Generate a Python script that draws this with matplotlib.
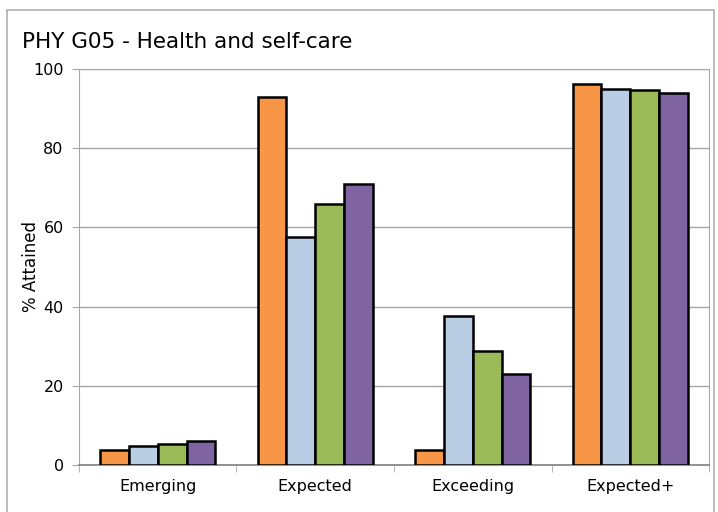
import matplotlib.pyplot as plt
import matplotlib.patches as mpatches
import numpy as np

categories = ["Emerging", "Expected", "Exceeding", "Expected+"]
series_a = [3.7, 92.9, 3.7, 96.3]
series_b = [4.9, 57.5, 37.6, 95.0]
series_c = [5.4, 65.8, 28.8, 94.6]
series_d = [6.1, 71.0, 23.1, 94.0]
colors = ["#f79646", "#b9cde5", "#9bbb59", "#8064a2"]

fig = plt.figure(figsize=(7.18, 5.12), dpi=100)
ax = fig.add_axes([0.110, 0.0918, 0.8775, 0.7735])

# outer chart border (bottom edge runs off the canvas)
fig.patches.append(mpatches.Rectangle((7 / 718, -0.05), 707 / 718, 1 - 10 / 512 + 0.05,
                                      transform=fig.transFigure, fill=False,
                                      edgecolor="#b0b0b0", linewidth=1.2))

x = np.arange(len(categories))
w = 0.183
for i, (vals, c) in enumerate(zip([series_a, series_b, series_c, series_d], colors)):
    ax.bar(x + (i - 1.5) * w, vals, width=w, color=c, edgecolor="black",
           linewidth=1.8, zorder=3)

ax.set_xlim(-0.5, len(categories) - 0.5)
ax.set_ylim(0, 100)
ax.set_yticks([0, 20, 40, 60, 80, 100])
ax.yaxis.grid(True, color="#a6a6a6", linewidth=1.0, zorder=0)
ax.set_xticks(x)
ax.set_xticklabels(categories, fontsize=11.5)
ax.set_xticks(np.arange(len(categories) + 1) - 0.5, minor=True)
ax.tick_params(axis="x", which="major", length=0, pad=10)
ax.tick_params(axis="x", which="minor", length=5, color="#a6a6a6", direction="out")
ax.tick_params(axis="y", length=5, color="#a6a6a6", direction="out", labelsize=11.5, pad=6)

for s in ["left", "bottom", "right", "top"]:
    ax.spines[s].set_color("#a6a6a6")
ax.spines["bottom"].set_color("#808080")
ax.spines["bottom"].set_linewidth(1.2)

ax.set_ylabel("% Attained", fontsize=12)
ax.yaxis.set_label_coords(-0.062, 0.5)
fig.text(22 / 718, 1 - 42 / 512, "PHY G05 - Health and self-care", fontsize=15.5,
         va="center", ha="left")

fig.savefig("out.png", dpi=100)
